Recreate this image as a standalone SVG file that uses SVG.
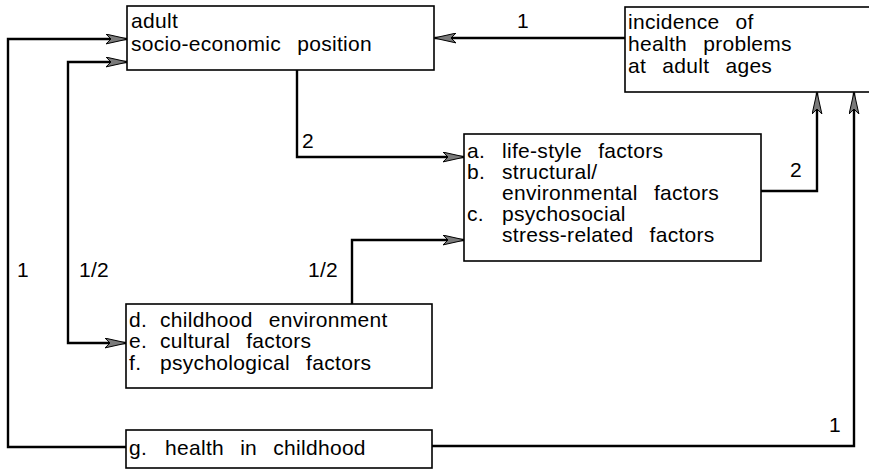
<svg xmlns="http://www.w3.org/2000/svg" width="869" height="470" viewBox="0 0 869 470">
<style>
  .box { fill: #fff; stroke: #000; stroke-width: 1.6; }
  .t { font-family: "Liberation Sans", Arial, sans-serif; font-size: 21px; fill: #000; letter-spacing: 0.3px; word-spacing: 10px; }
  .c { fill: none; stroke: #000; stroke-width: 2.4; }
</style>
<defs>
  <marker id="ah" viewBox="0 0 22 11" refX="21" refY="5.5" markerWidth="22" markerHeight="11" markerUnits="userSpaceOnUse" orient="auto-start-reverse">
    <path d="M0,0.6 L22,5.5 L0,10.4 L5,5.5 Z" fill="#7a7a7a" stroke="#000" stroke-width="1"/>
  </marker>
</defs>
<rect width="869" height="470" fill="#fff"/>

<g id="connectors">
  <path class="c" d="M625,38 H435" marker-end="url(#ah)"/>
  <path class="c" d="M297,70 V157 H464" marker-end="url(#ah)"/>
  <path class="c" d="M761,191 H817 V93" marker-end="url(#ah)"/>
  <path class="c" d="M432,446 H854 V93" marker-end="url(#ah)"/>
  <path class="c" d="M126,447 H8 V39 H127" marker-end="url(#ah)"/>
  <path class="c" d="M127,62 H68 V343 H126" marker-start="url(#ah)" marker-end="url(#ah)"/>
  <path class="c" d="M352,304 V240 H464" marker-end="url(#ah)"/>
  <text class="t" x="517" y="28">1</text>
  <text class="t" x="302" y="148">2</text>
  <text class="t" x="790" y="177">2</text>
  <text class="t" x="829" y="432">1</text>
  <text class="t" x="17" y="277">1</text>
  <text class="t" x="79" y="277">1/2</text>
  <text class="t" x="308" y="277">1/2</text>
</g>

<g id="node-adult-sep">
  <rect class="box" x="127" y="6" width="307" height="64"/>
  <text class="t" x="131" y="28">adult</text>
  <text class="t" x="131" y="51">socio-economic position</text>
</g>

<g id="node-incidence">
  <rect class="box" x="625" y="7" width="260" height="85"/>
  <text class="t" x="628" y="29">incidence of</text>
  <text class="t" x="628" y="51">health problems</text>
  <text class="t" x="628" y="73">at adult ages</text>
</g>

<g id="node-factors-abc">
  <rect class="box" x="464" y="134" width="297" height="127"/>
  <text class="t" x="467" y="158">a.</text>
  <text class="t" x="502" y="158">life-style factors</text>
  <text class="t" x="467" y="179">b.</text>
  <text class="t" x="502" y="179">structural/</text>
  <text class="t" x="502" y="200">environmental factors</text>
  <text class="t" x="467" y="221">c.</text>
  <text class="t" x="502" y="221">psychosocial</text>
  <text class="t" x="502" y="242">stress-related factors</text>
</g>

<g id="node-factors-def">
  <rect class="box" x="126" y="304" width="306" height="84"/>
  <text class="t" x="129" y="327">d.</text>
  <text class="t" x="160" y="327">childhood environment</text>
  <text class="t" x="129" y="348">e.</text>
  <text class="t" x="160" y="348">cultural factors</text>
  <text class="t" x="129" y="370">f.</text>
  <text class="t" x="160" y="370">psychological factors</text>
</g>

<g id="node-health-childhood">
  <rect class="box" x="126" y="430" width="306" height="38"/>
  <text class="t" x="129" y="455">g.</text>
  <text class="t" x="165" y="455">health in childhood</text>
</g>
</svg>
